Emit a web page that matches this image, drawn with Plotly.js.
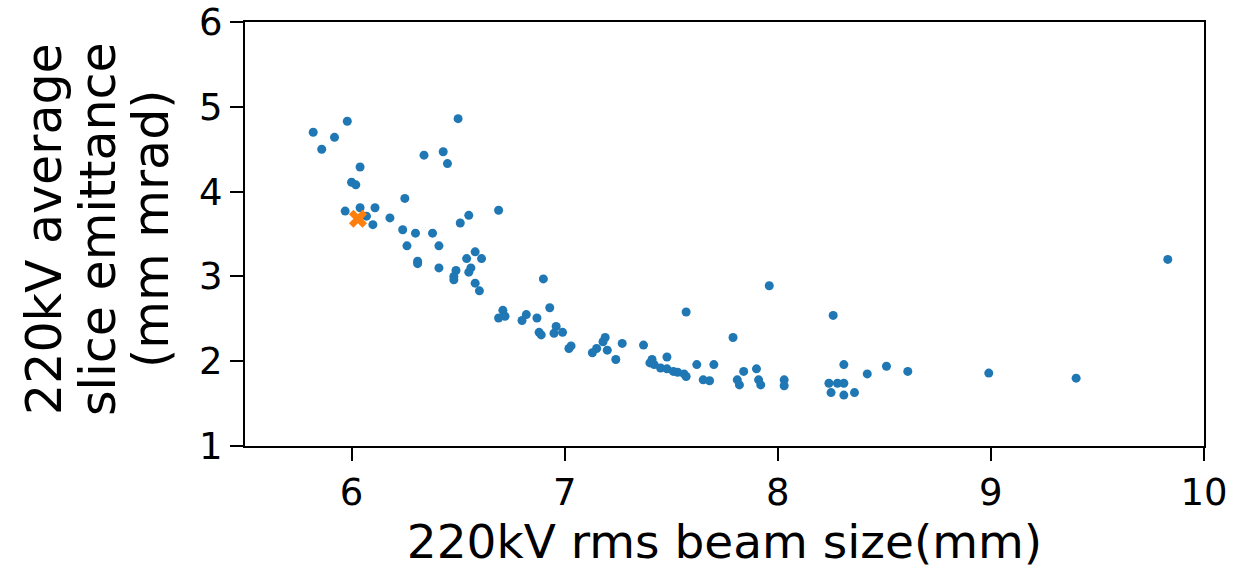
<!DOCTYPE html>
<html>
<head>
<meta charset="utf-8">
<script src="https://cdn.plot.ly/plotly-3.0.1.min.js"></script>
<style>html,body{margin:0;padding:0;background:#fff;}#chart{width:1251px;height:572px;}</style>
</head>
<body>
<div id="chart"></div>
<script>
// Measured points: rms beam size (mm) vs average slice emittance (mm mrad)
const beamSize = [5.82,5.98,5.92,5.86,6.50,6.34,6.43,6.45,6.04,6.00,6.02,6.25,5.97,6.04,6.11,6.07,6.10,6.18,6.24,6.30,6.38,6.26,6.41,6.55,6.51,6.31,6.31,6.41,6.69,6.49,6.48,6.48,6.58,6.54,6.61,6.56,6.55,6.58,6.60,6.90,6.71,6.69,6.72,6.82,6.80,6.87,6.93,6.96,6.88,6.89,6.95,6.99,7.03,7.02,7.19,7.18,7.15,7.13,7.20,7.27,7.24,7.37,7.57,7.41,7.40,7.42,7.45,7.48,7.51,7.53,7.56,7.57,7.48,7.62,7.70,7.65,7.68,7.96,8.26,7.79,7.84,7.81,7.82,7.90,7.91,7.92,8.03,8.03,8.31,8.24,8.28,8.31,8.25,8.31,8.36,8.42,8.51,8.61,8.99,9.40,9.83];
const emittance = [4.70,4.83,4.64,4.50,4.86,4.43,4.47,4.33,4.29,4.11,4.08,3.92,3.77,3.81,3.81,3.71,3.61,3.69,3.55,3.51,3.51,3.36,3.36,3.72,3.63,3.18,3.15,3.10,3.78,3.07,3.00,2.96,3.29,3.21,3.21,3.10,3.05,2.92,2.83,2.97,2.60,2.51,2.53,2.55,2.48,2.51,2.63,2.41,2.34,2.31,2.33,2.34,2.18,2.15,2.28,2.23,2.15,2.10,2.13,2.21,2.02,2.19,2.58,2.02,1.98,1.96,1.92,1.91,1.88,1.87,1.85,1.82,2.05,1.96,1.96,1.78,1.77,2.89,2.54,2.28,1.88,1.78,1.72,1.91,1.78,1.72,1.78,1.71,1.96,1.74,1.74,1.74,1.63,1.60,1.63,1.85,1.94,1.88,1.86,1.80,3.20];
// Highlighted (chosen) working point
const chosenSize = [6.03];
const chosenEmittance = [3.68];
const xTicks = [6,7,8,9,10];
const yTicks = [1,2,3,4,5,6];
const yTitleLines = ['220kV average', 'slice emittance', '(mm mrad)'];

const font = 'DejaVu Sans, sans-serif';
const traces = [
  {x: beamSize, y: emittance, type: 'scatter', mode: 'markers',
   marker: {color: '#1f77b4', size: 9}, hoverinfo: 'x+y'},
  {x: chosenSize, y: chosenEmittance, type: 'scatter', mode: 'markers',
   marker: {color: '#ff7f0e', size: 16, symbol: 'x', line: {width: 0}}}
];
const plotLeft = 245, plotWidth = 959;
const linePx = [45, 99, 152];
const annotations = yTitleLines.map((t, i) => ({
  text: t, xref: 'paper', yref: 'paper',
  x: (linePx[i] - plotLeft) / plotWidth, y: 0.512,
  xanchor: 'center', yanchor: 'middle', textangle: -90, showarrow: false,
  font: {family: font, size: 49, color: '#000'}
}));
const layout = {
  width: 1251, height: 572,
  margin: {l: 245, r: 47, t: 22, b: 126},
  paper_bgcolor: '#ffffff', plot_bgcolor: '#ffffff',
  showlegend: false,
  font: {family: font, color: '#000', size: 37},
  annotations: annotations,
  xaxis: {
    range: [5.5, 10], tickvals: xTicks, ticktext: xTicks.map(String),
    showgrid: false, zeroline: false, showline: true, mirror: true,
    linecolor: '#000', linewidth: 2, ticks: 'outside', ticklen: 13, tickwidth: 2, tickcolor: '#000',
    tickfont: {family: font, size: 37, color: '#000'},
    title: {text: '220kV rms beam size(mm)', font: {family: font, size: 47, color: '#000'}, standoff: 12}
  },
  yaxis: {
    range: [1, 6], tickvals: yTicks, ticktext: yTicks.map(String),
    showgrid: false, zeroline: false, showline: true, mirror: true,
    linecolor: '#000', linewidth: 2, ticks: 'outside', ticklen: 13, tickwidth: 2, tickcolor: '#000',
    tickfont: {family: font, size: 37, color: '#000'}
  }
};
Plotly.newPlot('chart', traces, layout, {displayModeBar: false, staticPlot: true});
</script>
</body>
</html>
